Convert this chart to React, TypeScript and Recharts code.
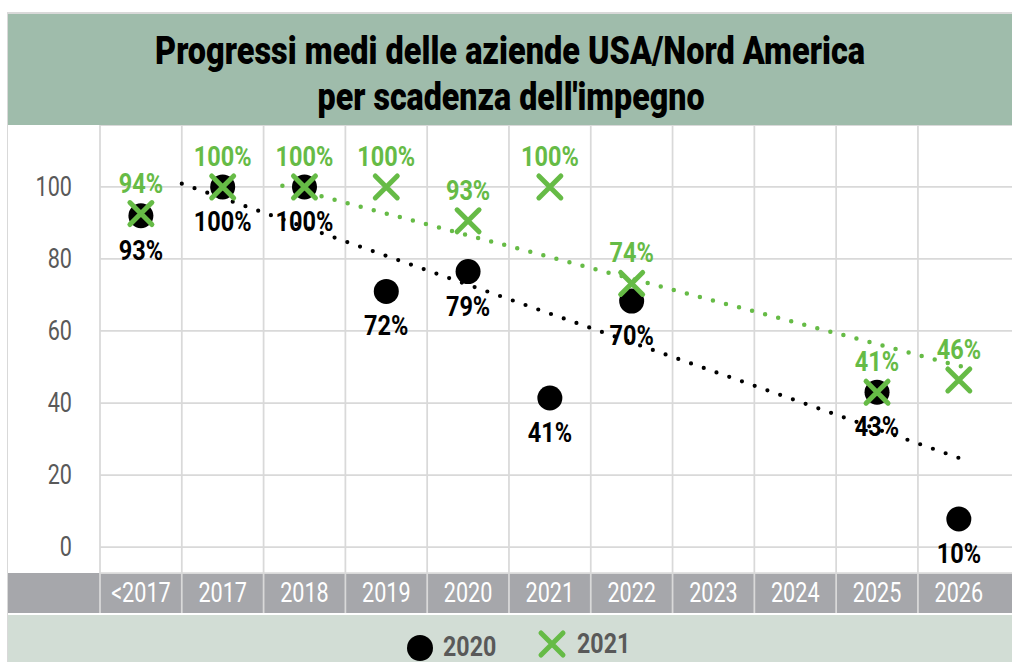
import React from "react";
import {
  ComposedChart,
  Line,
  XAxis,
  YAxis,
  CartesianGrid,
  ReferenceLine,
  LabelList,
  Legend,
} from "recharts";

// ---------- data ----------
const categories = ["<2017", "2017", "2018", "2019", "2020", "2021", "2022", "2023", "2024", "2025", "2026"];
const seriesNames = ["2020", "2021"];
const values2020: (number | null)[] = [92, 100, 100, 71, 76.5, 41.4, 68.3, null, null, 43, 7.8];
const labels2020 = ["93%", "100%", "100%", "72%", "79%", "41%", "70%", "", "", "43%", "10%"];
const values2021: (number | null)[] = [92.6, 100, 100, 100, 90.6, 100, 73.2, null, null, 43, 46.4];
const labels2021 = ["94%", "100%", "100%", "100%", "93%", "100%", "74%", "", "", "41%", "46%"];
const trendX2020 = [0.5, 10.02];
const trendY2020 = [100.9, 24.6];
const trendX2021 = [1.73, 10.07];
const trendY2021 = [100.3, 49.9];
const yTicks = [0, 20, 40, 60, 80, 100];
const titleLines = ["Progressi medi delle aziende USA/Nord America", "per scadenza dell'impegno"];

// ---------- derived ----------
const rows2020 = categories.map((c, i) => ({ x: i, v: values2020[i], label: labels2020[i] }));
const rows2021 = categories.map((c, i) => ({ x: i, v: values2021[i], label: labels2021[i] }));
const trendRows2020 = trendX2020.map((x, i) => ({ x, v: trendY2020[i] }));
const trendRows2021 = trendX2021.map((x, i) => ({ x, v: trendY2021[i] }));
const boundaries = categories.map((c, i) => i - 0.5);
const xTicks = categories.flatMap((c, i) => [i - 0.5, i]);

// ---------- styles ----------
const FONT = "Roboto, 'Liberation Sans', Arial, sans-serif";
const GRID = "#d9d9d9";
const GREEN = "#66bb46";
const BLACK = "#000000";
const TITLE_BG = "#9fbcab";
const BAND_BG = "#a6a7ab";
const LEGEND_BG = "#d2ddd5";
const TEXT_GRAY = "#595959";

const XTick = (props: any) => {
  const { x, y, payload } = props;
  const v = payload.value;
  if (!Number.isInteger(v)) {
    return <line x1={x} x2={x} y1={y} y2={y + 40} stroke={GRID} strokeWidth={1.75} />;
  }
  return (
    <text
      transform={`translate(${x},${y + 29}) scale(0.8,1)`}
      textAnchor="middle"
      fontSize={27}
      fill="#ffffff"
      fontFamily={FONT}
    >
      {categories[v]}
    </text>
  );
};

const YTick = (props: any) => {
  const { x, y, payload } = props;
  return (
    <text
      transform={`translate(${x - 28},${y + 9}) scale(0.8,1)`}
      textAnchor="end"
      fontSize={27}
      fill={TEXT_GRAY}
      fontFamily={FONT}
    >
      {payload.value}
    </text>
  );
};

const BlackDot = (props: any) => {
  const { cx, cy, index, payload } = props;
  if (cy == null || payload == null || payload.v == null || isNaN(cy)) return <g key={`b${index}`} />;
  return <circle key={`b${index}`} cx={cx} cy={cy} r={12.5} fill={BLACK} />;
};

const GreenX = (props: any) => {
  const { cx, cy, index, payload } = props;
  if (cy == null || payload == null || payload.v == null || isNaN(cy)) return <g key={`g${index}`} />;
  const s = 11;
  return (
    <path
      key={`g${index}`}
      d={`M${cx - s},${cy - s}L${cx + s},${cy + s}M${cx - s},${cy + s}L${cx + s},${cy - s}`}
      stroke={GREEN}
      strokeWidth={5}
      strokeLinecap="round"
      fill="none"
    />
  );
};

const makeLabel = (dy: number, color: string) => (props: any) => {
  const { value, index } = props;
  const x = props.x ?? props.viewBox?.x;
  const y = props.y ?? props.viewBox?.y;
  if (!value || x == null || y == null || isNaN(y)) return <g key={`l${index}`} />;
  return (
    <text
      key={`l${index}`}
      transform={`translate(${x},${y + dy}) scale(0.84,1)`}
      textAnchor="middle"
      fontSize={28}
      fontWeight={700}
      fill={color}
      fontFamily={FONT}
    >
      {value}
    </text>
  );
};

const labelBelow = makeLabel(44, BLACK);
const labelAbove = makeLabel(-21, GREEN);

const LegendContent = () => (
  <svg width={1004} height={49} style={{ display: "block" }}>
    <circle cx={412} cy={35} r={13} fill={BLACK} />
    <text
      transform={`translate(435,43) scale(0.86,1)`}
      fontSize={27}
      fontWeight={700}
      fill={TEXT_GRAY}
      fontFamily={FONT}
    >
      {seriesNames[0]}
    </text>
    <path d="M533,20L555,42M533,42L555,20" stroke={GREEN} strokeWidth={5} strokeLinecap="round" fill="none" />
    <text
      transform={`translate(569,40) scale(0.86,1)`}
      fontSize={27}
      fontWeight={700}
      fill={TEXT_GRAY}
      fontFamily={FONT}
    >
      {seriesNames[1]}
    </text>
  </svg>
);

export default function App() {
  return (
    <div
      style={{
        position: "fixed",
        left: 0,
        top: 0,
        width: 1012,
        height: 662,
        overflow: "hidden",
        background: "#ffffff",
        fontFamily: FONT,
      }}
    >
      <div
        style={{
          position: "absolute",
          left: 7,
          top: 12,
          width: 1010,
          height: 660,
          borderLeft: `1px solid ${GRID}`,
          borderTop: `2px solid ${GRID}`,
        }}
      />
      <div style={{ position: "absolute", left: 8, top: 14, width: 1004, height: 111, background: TITLE_BG }} />
      <div style={{ position: "absolute", left: 8, top: 573, width: 1004, height: 40, background: BAND_BG }} />
      <div style={{ position: "absolute", left: 8, top: 615, width: 1004, height: 47, background: LEGEND_BG }} />
      <svg style={{ position: "absolute", left: 8, top: 14 }} width={1004} height={111}>
        <g transform="translate(502,50) scale(1,1.1)">
          <text
            x={0}
            y={0}
            textAnchor="middle"
            textLength={710}
            lengthAdjust="spacingAndGlyphs"
            fontSize={35}
            fontWeight={900}
            fill="#000"
            fontFamily={FONT}
          >
            {titleLines[0]}
          </text>
        </g>
        <g transform="translate(503,96) scale(1,1.1)">
          <text
            x={0}
            y={0}
            textAnchor="middle"
            textLength={387}
            lengthAdjust="spacingAndGlyphs"
            fontSize={35}
            fontWeight={900}
            fill="#000"
            fontFamily={FONT}
          >
            {titleLines[1]}
          </text>
        </g>
      </svg>
      <div style={{ position: "absolute", left: 8, top: 125 }}>
        <ComposedChart width={1004} height={537} margin={{ top: 0, right: 0, bottom: 0, left: 0 }}>
          <CartesianGrid vertical={false} stroke={GRID} strokeWidth={1.75} />
          {boundaries.map((b) => (
            <ReferenceLine key={`v${b}`} x={b} stroke={GRID} strokeWidth={1.75} />
          ))}
          <XAxis
            type="number"
            dataKey="x"
            domain={[-0.5, 10.65]}
            allowDataOverflow
            ticks={xTicks}
            interval={0}
            axisLine={false}
            tickLine={false}
            tickSize={0}
            tickMargin={0}
            height={40}
            tick={<XTick />}
          />
          <YAxis
            type="number"
            domain={[-7.2, 117.2]}
            allowDataOverflow
            ticks={yTicks}
            interval={0}
            axisLine={false}
            tickLine={false}
            tickSize={0}
            tickMargin={0}
            width={92}
            tick={<YTick />}
          />
          <Legend verticalAlign="bottom" height={49} content={<LegendContent />} wrapperStyle={{ left: 0, width: 1004, height: 49 }} />
          <Line
            data={trendRows2020}
            dataKey="v"
            stroke={BLACK}
            strokeWidth={4.2}
            strokeDasharray="0 13.5"
            strokeLinecap="round"
            dot={false}
            activeDot={false}
            legendType="none"
            isAnimationActive={false}
          />
          <Line
            data={trendRows2021}
            dataKey="v"
            stroke={GREEN}
            strokeWidth={4.5}
            strokeDasharray="0 13.5"
            strokeLinecap="round"
            dot={false}
            activeDot={false}
            legendType="none"
            isAnimationActive={false}
          />
          <Line
            data={rows2020}
            dataKey="v"
            name={seriesNames[0]}
            stroke="none"
            dot={(p: any) => <BlackDot {...p} />}
            activeDot={false}
            legendType="circle"
            isAnimationActive={false}
          >
            <LabelList dataKey="label" content={labelBelow} />
          </Line>
          <Line
            data={rows2021}
            dataKey="v"
            name={seriesNames[1]}
            stroke="none"
            dot={(p: any) => <GreenX {...p} />}
            activeDot={false}
            legendType="cross"
            isAnimationActive={false}
          >
            <LabelList dataKey="label" content={labelAbove} />
          </Line>
        </ComposedChart>
      </div>
    </div>
  );
}
